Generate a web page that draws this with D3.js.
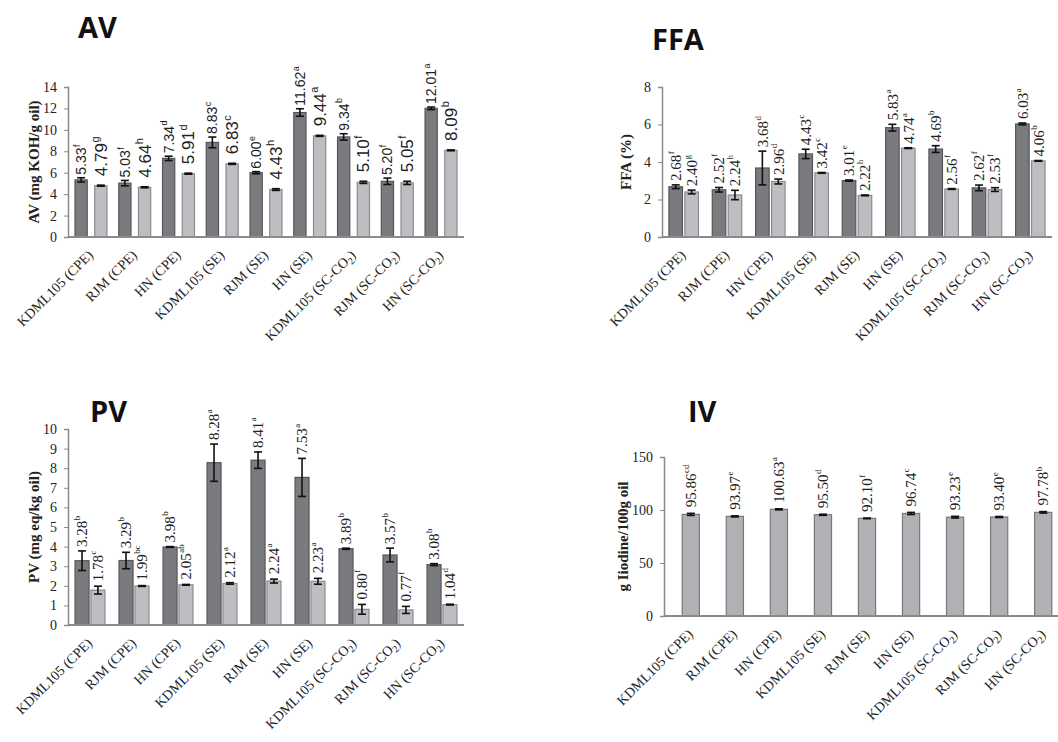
<!DOCTYPE html>
<html>
<head>
<meta charset="utf-8">
<script src="https://cdn.jsdelivr.net/npm/d3@7"></script>
<style>
  body { margin: 0; background: #fff; }
  svg { display: block; }
  .title { font-family: "Open Sans", sans-serif; font-weight: 700; font-size: 29px; fill: #111; }
  .ylab { font-family: "Liberation Serif", serif; font-weight: 700; font-size: 15px; fill: #222; }
  .tick text { font-family: "Liberation Serif", serif; font-size: 14px; fill: #222; }
  .xlab { font-family: "Liberation Serif", serif; font-size: 14px; fill: #222; }
  .vsans { font-family: "Liberation Sans", Arial, sans-serif; fill: #222; }
  .vserif { font-family: "Liberation Serif", serif; fill: #222; }
</style>
</head>
<body>
<svg id="chart" width="1058" height="742"></svg>
<script>
const samples = ["KDML105 (CPE)", "RJM (CPE)", "HN (CPE)", "KDML105 (SE)", "RJM (SE)", "HN (SE)",
                 "KDML105 (SC-CO2)", "RJM (SC-CO2)", "HN (SC-CO2)"];

// AV
const avDark = [5.33, 5.03, 7.34, 8.83, 6.00, 11.62, 9.34, 5.20, 12.01];
const avDarkErr = [0.2, 0.25, 0.2, 0.5, 0.1, 0.35, 0.3, 0.3, 0.12];
const avDarkSup = ["f", "f", "d", "c", "e", "a", "b", "f", "a"];
const avLight = [4.79, 4.64, 5.91, 6.83, 4.43, 9.44, 5.10, 5.05, 8.09];
const avLightErr = [0.05, 0.05, 0.05, 0.05, 0.08, 0.05, 0.1, 0.15, 0.04];
const avLightSup = ["g", "h", "d", "c", "h", "a", "f", "f", "b"];
const avTicks = [0, 2, 4, 6, 8, 10, 12, 14];

// FFA
const ffaDark = [2.68, 2.52, 3.68, 4.43, 3.01, 5.83, 4.69, 2.62, 6.03];
const ffaDarkErr = [0.1, 0.12, 0.9, 0.25, 0.03, 0.18, 0.18, 0.15, 0.05];
const ffaDarkSup = ["f", "f", "d", "c", "e", "a", "b", "f", "a"];
const ffaLight = [2.40, 2.24, 2.96, 3.42, 2.22, 4.74, 2.56, 2.53, 4.06];
const ffaLightErr = [0.1, 0.25, 0.13, 0.02, 0.02, 0.02, 0.02, 0.1, 0.02];
const ffaLightSup = ["g", "h", "d", "c", "h", "a", "f", "f", "b"];
const ffaTicks = [0, 2, 4, 6, 8];

// PV
const pvDark = [3.28, 3.29, 3.98, 8.28, 8.41, 7.53, 3.89, 3.57, 3.08];
const pvDarkErr = [0.5, 0.42, 0.02, 0.95, 0.42, 0.97, 0.03, 0.35, 0.05];
const pvDarkSup = ["b", "b", "b", "a", "a", "a", "b", "b", "b"];
const pvLight = [1.78, 1.99, 2.05, 2.12, 2.24, 2.23, 0.80, 0.77, 1.04];
const pvLightErr = [0.2, 0.02, 0.02, 0.04, 0.1, 0.15, 0.25, 0.18, 0.02];
const pvLightSup = ["c", "bc", "ab", "a", "a", "a", "f", "f", "d"];
const pvTicks = [0, 1, 2, 3, 4, 5, 6, 7, 8, 9, 10];

// IV
const ivVal = [95.86, 93.97, 100.63, 95.50, 92.10, 96.74, 93.23, 93.40, 97.78];
const ivErr = [1.0, 0.5, 0.5, 0.5, 0.3, 1.0, 0.8, 0.5, 0.7];
const ivSup = ["cd", "e", "a", "d", "f", "c", "e", "e", "b"];
const ivTicks = [0, 50, 100, 150];

const svg = d3.select("#chart");

function drawPanel(p) {
    const g = svg.append("g");

    const y = d3.scaleLinear().domain([0, p.yMax]).range([p.y0, p.y1]);
    const x = d3.scaleBand().domain(samples).range([p.x0, p.x1]).paddingInner(p.padIn).paddingOuter(p.padOut);
    const sub = d3.scaleBand().domain(d3.range(p.series.length)).range([0, x.bandwidth()]).paddingInner(p.subPad);

    // title
    g.append("text").attr("class", "title")
        .attr("x", p.titleX).attr("y", p.titleY).text(p.title);

    // y axis
    const ya = g.append("g")
        .attr("transform", `translate(${p.axisX},0)`)
        .call(d3.axisLeft(y).tickValues(p.ticks).tickSize(4).tickPadding(7).tickFormat(d3.format("d")));
    ya.select(".domain").attr("stroke", "#8a8a8a").attr("stroke-width", 1.5);
    ya.selectAll(".tick line").attr("stroke", "#8a8a8a");

    g.append("text").attr("class", "ylab")
        .attr("transform", `translate(${p.ylabX},${(p.y0 + p.y1) / 2}) rotate(-90)`)
        .attr("text-anchor", "middle").attr("dy", "0.35em")
        .text(p.ylab);

    // bars
    p.series.forEach((s, si) => {
        const bx = (i) => x(samples[i]) + sub(si);
        const bw = sub.bandwidth();

        g.append("g").selectAll("rect")
            .data(s.values)
            .join("rect")
            .attr("x", (d, i) => bx(i))
            .attr("y", d => y(d))
            .attr("width", bw)
            .attr("height", d => y(0) - y(d))
            .attr("fill", s.fill)
            .attr("stroke", s.stroke)
            .attr("stroke-width", 1.2);

        // error bars
        const eg = g.append("g").attr("stroke", "#111").attr("stroke-width", 1.6);
        s.values.forEach((v, i) => {
            const cx = bx(i) + bw / 2;
            const hi = y(v + s.err[i]), lo = y(v - s.err[i]);
            eg.append("line").attr("x1", cx).attr("x2", cx).attr("y1", hi).attr("y2", lo);
            eg.append("line").attr("x1", cx - 4).attr("x2", cx + 4).attr("y1", hi).attr("y2", hi);
            eg.append("line").attr("x1", cx - 4).attr("x2", cx + 4).attr("y1", lo).attr("y2", lo);
        });

        // value labels, vertical: number and letter as two rotated texts
        s.values.forEach((v, i) => {
            const cx = bx(i) + bw / 2;
            const top = y(v + s.err[i]) - s.labGap;
            const num = g.append("text")
                .attr("class", s.labClass)
                .attr("font-size", s.labSize)
                .attr("text-anchor", "start")
                .attr("dy", "0.35em")
                .attr("transform", `translate(${cx},${top}) rotate(-90)`)
                .text(v.toFixed(2));
            const len = num.node().getComputedTextLength();
            const supSize = Math.round(s.labSize * 0.62);
            g.append("text")
                .attr("class", s.labClass)
                .attr("font-size", supSize)
                .attr("text-anchor", "start")
                .attr("dy", "0.35em")
                .attr("transform", `translate(${cx - s.labSize * 0.32},${top - len - 0.5}) rotate(-90)`)
                .text(s.sup[i]);
        });
    });

    // x axis line
    g.append("line")
        .attr("x1", p.axisX).attr("x2", p.xAxisEnd)
        .attr("y1", y(0)).attr("y2", y(0))
        .attr("stroke", "#8a8a8a").attr("stroke-width", 2);

    // x labels
    samples.forEach(name => {
        const cx = x(name) + x.bandwidth() / 2;
        const t = g.append("text").attr("class", "xlab")
            .attr("text-anchor", "end")
            .attr("transform", `translate(${cx + 3},${y(0) + 19}) rotate(-45)`);
        const m = name.match(/^(.*CO)2\)$/);
        if (m) {
            t.append("tspan").text(m[1]);
            t.append("tspan").attr("dy", 3).style("font-size", "10px").text("2");
            t.append("tspan").attr("dy", -3).text(")");
        } else {
            t.text(name);
        }
    });
}

const darkFill = "#7a7b7f", darkStroke = "#55565a";
const lightFill = "#bdbec1", lightStroke = "#8a8b8f";

drawPanel({
    title: "AV", titleX: 78, titleY: 38,
    yMax: 14, ticks: avTicks, y0: 237, y1: 87, axisX: 68, x0: 68, x1: 464, xAxisEnd: 464,
    padIn: 0.27, padOut: 0.16, subPad: 0.38,
    ylab: "AV (mg KOH/g oil)", ylabX: 34,
    series: [
        { values: avDark, err: avDarkErr, sup: avDarkSup, fill: darkFill, stroke: darkStroke, labClass: "vsans", labSize: 14, labGap: 3 },
        { values: avLight, err: avLightErr, sup: avLightSup, fill: lightFill, stroke: lightStroke, labClass: "vsans", labSize: 17, labGap: 9 }
    ]
});

drawPanel({
    title: "FFA", titleX: 652, titleY: 50,
    yMax: 8, ticks: ffaTicks, y0: 237, y1: 87, axisX: 662, x0: 662, x1: 1052, xAxisEnd: 1052,
    padIn: 0.32, padOut: 0.16, subPad: 0.15,
    ylab: "FFA (%)", ylabX: 626,
    series: [
        { values: ffaDark, err: ffaDarkErr, sup: ffaDarkSup, fill: darkFill, stroke: darkStroke, labClass: "vserif", labSize: 15, labGap: 4 },
        { values: ffaLight, err: ffaLightErr, sup: ffaLightSup, fill: lightFill, stroke: lightStroke, labClass: "vserif", labSize: 15, labGap: 4 }
    ]
});

drawPanel({
    title: "PV", titleX: 90, titleY: 422,
    yMax: 10, ticks: pvTicks, y0: 625, y1: 429, axisX: 68, x0: 68, x1: 464, xAxisEnd: 464,
    padIn: 0.32, padOut: 0.16, subPad: 0.12,
    ylab: "PV (mg eq/kg oil)", ylabX: 34,
    series: [
        { values: pvDark, err: pvDarkErr, sup: pvDarkSup, fill: darkFill, stroke: darkStroke, labClass: "vserif", labSize: 15, labGap: 4 },
        { values: pvLight, err: pvLightErr, sup: pvLightSup, fill: lightFill, stroke: lightStroke, labClass: "vserif", labSize: 15, labGap: 5 }
    ]
});

drawPanel({
    title: "IV", titleX: 688, titleY: 422,
    yMax: 150, ticks: ivTicks, y0: 616, y1: 457, axisX: 664, x0: 669, x1: 1065, xAxisEnd: 1058,
    padIn: 0.61, padOut: 0.3, subPad: 0,
    ylab: "g Iiodine/100g oil", ylabX: 623,
    series: [
        { values: ivVal, err: ivErr, sup: ivSup, fill: "#b0b1b4", stroke: "#77787c", labClass: "vserif", labSize: 15, labGap: 6 }
    ]
});
</script>
</body>
</html>
